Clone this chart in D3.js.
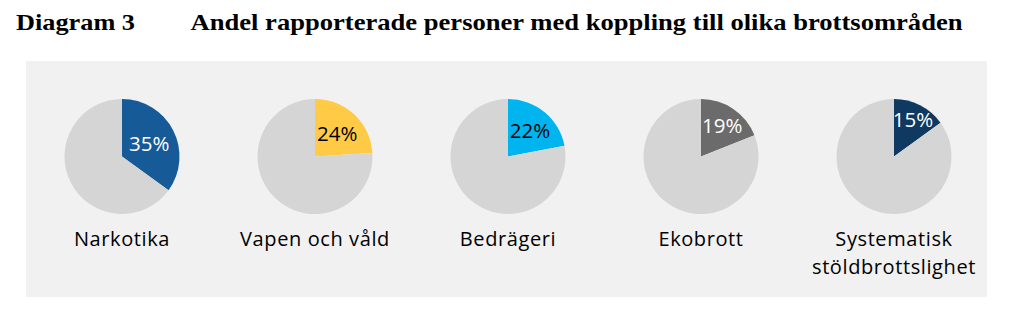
<!DOCTYPE html>
<html><head><meta charset="utf-8">
<script src="https://cdn.jsdelivr.net/npm/d3@7"></script>
<style>html,body{margin:0;padding:0;background:#fff;}svg{display:block;}</style>
</head><body>
<svg id="chart" width="1016" height="328"></svg>
<script>
const figureLabel = "Diagram 3";
const title = "Andel rapporterade personer med koppling till olika brottsområden";
const categories = ["Narkotika", "Vapen och våld", "Bedrägeri", "Ekobrott", "Systematisk stöldbrottslighet"];
const categoryLines = [["Narkotika"], ["Vapen och våld"], ["Bedrägeri"], ["Ekobrott"], ["Systematisk", "stöldbrottslighet"]];
const shares = [0.35, 0.24, 0.22, 0.19, 0.15];
const sliceColors = ["#175a98", "#ffcb47", "#00b5ef", "#6b6b6b", "#0f3961"];
const labelColors = ["#ffffff", "#000000", "#000000", "#ffffff", "#ffffff"];
const restColor = "#d5d5d5";

const svg = d3.select("#chart");
const panel = {x: 26, y: 61, w: 961, h: 236};
const serif = "'Liberation Serif', 'Times New Roman', Times, serif";
const sans = "'Open Sans', 'Noto Sans', sans-serif";

svg.append("text").attr("x", 16).attr("y", 29.5)
  .attr("font-family", serif)
  .attr("font-weight", "bold").attr("font-size", 24).attr("fill", "#000")
  .attr("textLength", 119).attr("lengthAdjust", "spacingAndGlyphs")
  .text(figureLabel);
svg.append("text").attr("x", 190.5).attr("y", 29.5)
  .attr("font-family", serif)
  .attr("font-weight", "bold").attr("font-size", 24).attr("fill", "#000")
  .attr("textLength", 772).attr("lengthAdjust", "spacingAndGlyphs")
  .text(title);

svg.append("rect").attr("x", panel.x).attr("y", panel.y)
  .attr("width", panel.w).attr("height", panel.h).attr("fill", "#f1f1f1");

const x = d3.scalePoint().domain(categories).range([122, 894]);
const cy = 156.5, R = 57.5;
const pie = d3.pie().sort(null).value(d => d);
const arc = d3.arc().innerRadius(0).outerRadius(R);

categories.forEach((cat, i) => {
  const v = shares[i];
  const g = svg.append("g").attr("transform", `translate(${x(cat)},${cy})`);
  const arcs = pie([v, 1 - v]);
  g.selectAll("path").data(arcs).join("path")
    .attr("d", arc)
    .attr("fill", (d, j) => j === 0 ? sliceColors[i] : restColor);
  // label placement: pushed outward for smaller slices (best-fit style)
  const k = 0.53 + 1.8 * Math.max(0, 0.26 - v);
  const la = d3.arc().innerRadius(0).outerRadius(2 * R * k);
  const [lx, ly] = la.centroid(arcs[0]);
  g.append("text").attr("x", lx).attr("y", ly)
    .attr("text-anchor", "middle").attr("dominant-baseline", "central")
    .attr("font-family", sans).attr("font-size", 20.5).attr("font-weight", 500)
    .attr("fill", labelColors[i])
    .text(d3.format(".0%")(v));
  const t = svg.append("text").attr("text-anchor", "middle")
    .attr("font-family", sans).attr("font-size", 20).attr("font-weight", 500)
    .attr("letter-spacing", 0.6)
    .attr("fill", "#000");
  categoryLines[i].forEach((line, li) => {
    t.append("tspan").attr("x", x(cat)).attr("y", 245.5 + li * 28.7).text(line);
  });
});
</script>
</body></html>
